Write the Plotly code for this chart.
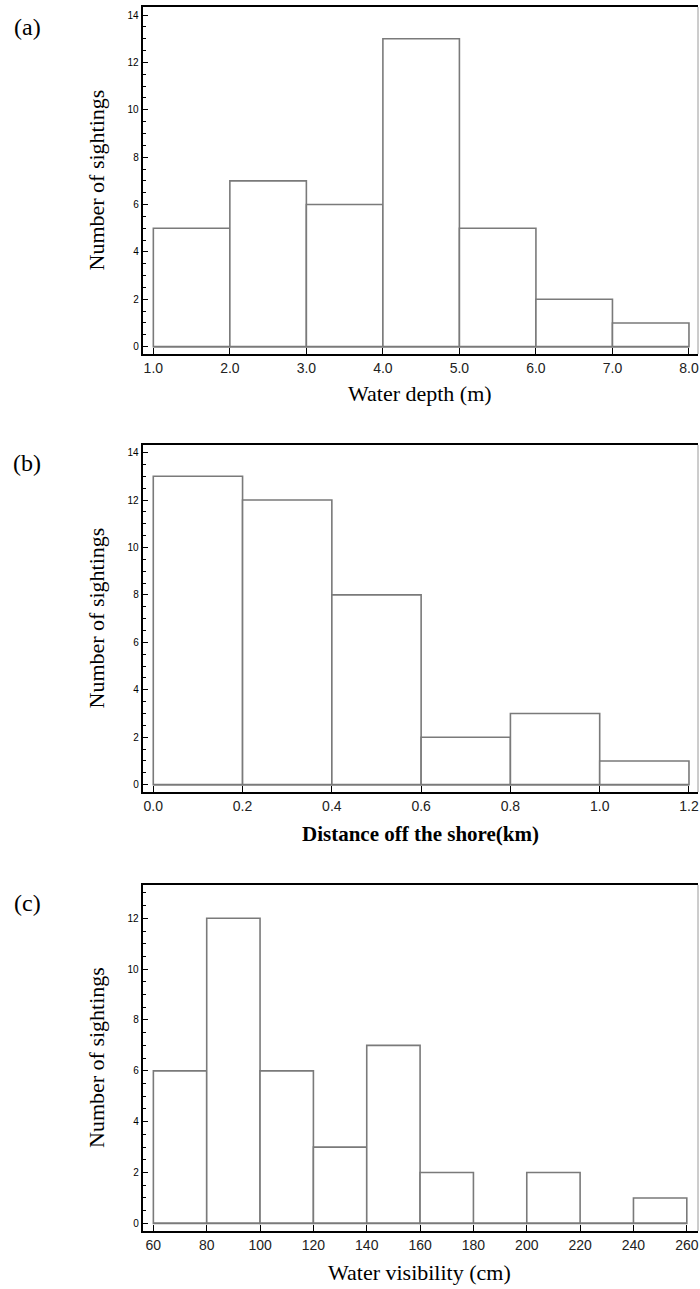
import plotly.graph_objects as go

W, H = 700, 1289

# ---------------- data ----------------
depth_edges = [1.0, 2.0, 3.0, 4.0, 5.0, 6.0, 7.0, 8.0]
depth_counts = [5, 7, 6, 13, 5, 2, 1]
depth_ticks = [1.0, 2.0, 3.0, 4.0, 5.0, 6.0, 7.0, 8.0]
depth_ticklabels = ["1.0", "2.0", "3.0", "4.0", "5.0", "6.0", "7.0", "8.0"]

dist_edges = [0.0, 0.2, 0.4, 0.6, 0.8, 1.0, 1.2]
dist_counts = [13, 12, 8, 2, 3, 1]
dist_ticks = [0.0, 0.2, 0.4, 0.6, 0.8, 1.0, 1.2]
dist_ticklabels = ["0.0", "0.2", "0.4", "0.6", "0.8", "1.0", "1.2"]

vis_edges = [60, 80, 100, 120, 140, 160, 180, 200, 220, 240, 260]
vis_counts = [6, 12, 6, 3, 7, 2, 0, 2, 0, 1]
vis_ticks = [60, 80, 100, 120, 140, 160, 180, 200, 220, 240, 260]
vis_ticklabels = ["60", "80", "100", "120", "140", "160", "180", "200", "220", "240", "260"]

panel_labels = ["(a)", "(b)", "(c)"]
x_titles = ["Water depth (m)", "Distance off the shore(km)", "Water visibility (cm)"]
y_title = "Number of sightings"

# ---------------- layout geometry (pixels) ----------------
left_px, right_px = 142.7, 698.0
panels = [
    dict(edges=depth_edges, counts=depth_counts, ticks=depth_ticks, labels=depth_ticklabels,
         top=7, bottom=354, xr=[0.861, 8.118], yr=[-0.31, 14.34], ymax_tick=14,
         lab_y=27, xt_y=393, xt_bold=False, xt_x=420),
    dict(edges=dist_edges, counts=dist_counts, ticks=dist_ticks, labels=dist_ticklabels,
         top=445, bottom=792, xr=[-0.0237, 1.2202], yr=[-0.31, 14.32], ymax_tick=14,
         lab_y=463, xt_y=834, xt_bold=True, xt_x=420),
    dict(edges=vis_edges, counts=vis_counts, ticks=vis_ticks, labels=vis_ticklabels,
         top=885, bottom=1231, xr=[56.0, 264.2], yr=[-0.30, 13.31], ymax_tick=12,
         lab_y=903, xt_y=1272, xt_bold=False, xt_x=419),
]

fig = go.Figure()
BAR_LINE = "#7a7a7a"
annotations = []
shapes = []
layout = {}

for i, p in enumerate(panels):
    n = "" if i == 0 else str(i + 1)
    xa, ya = "x" + n, "y" + n
    edges, counts = p["edges"], p["counts"]
    centers = [(edges[k] + edges[k + 1]) / 2 for k in range(len(counts))]
    widths = [edges[k + 1] - edges[k] for k in range(len(counts))]

    # baseline at zero across the binned range
    fig.add_trace(go.Scatter(x=[edges[0], edges[-1]], y=[0, 0], mode="lines",
                             line=dict(color=BAR_LINE, width=1.5),
                             xaxis=xa, yaxis=ya, showlegend=False, hoverinfo="skip"))
    fig.add_trace(go.Bar(x=centers, y=counts, width=widths,
                         marker=dict(color="white", line=dict(color=BAR_LINE, width=1.6)),
                         xaxis=xa, yaxis=ya, showlegend=False))

    d0 = 1 - p["bottom"] / H
    d1 = 1 - p["top"] / H
    layout["xaxis" + n] = dict(
        domain=[left_px / W, right_px / W], anchor=ya, range=p["xr"],
        tickmode="array", tickvals=p["ticks"], ticktext=p["labels"],
        ticks="inside", ticklen=6, tickwidth=1, tickcolor="black",
        showline=True, linecolor="black", linewidth=2, mirror=True,
        showgrid=False, zeroline=False,
        tickfont=dict(family="Liberation Sans", size=14, color="#222222"),
    )
    layout["yaxis" + n] = dict(
        domain=[d0, d1], anchor=xa, range=p["yr"],
        tickmode="array", tickvals=list(range(0, p["ymax_tick"] + 1, 2)),
        ticks="inside", ticklen=5, tickwidth=1, tickcolor="black",
        minor=dict(dtick=0.5, tick0=0, ticks="inside", ticklen=3, tickcolor="black"),
        showline=True, linecolor="black", linewidth=2, mirror=False,
        showgrid=False, zeroline=False,
        tickfont=dict(family="Liberation Sans", size=10, color="black"),
    )
    # right frame line (thin gray)
    shapes.append(dict(type="line", xref=xa + " domain", yref=ya + " domain",
                       x0=1, x1=1, y0=0, y1=1, line=dict(color="#9a9a9a", width=1)))

    annotations.append(dict(text=panel_labels[i], xref="paper", yref="paper",
                            x=27 / W, y=1 - p["lab_y"] / H, showarrow=False,
                            xanchor="center", yanchor="middle",
                            font=dict(family="Liberation Serif", size=24, color="black")))
    xt = x_titles[i]
    if p["xt_bold"]:
        xt = "<b>" + xt + "</b>"
    annotations.append(dict(text=xt, xref="paper", yref="paper",
                            x=p["xt_x"] / W, y=1 - p["xt_y"] / H, showarrow=False,
                            xanchor="center", yanchor="middle",
                            font=dict(family="Liberation Serif",
                                      size=21 if p["xt_bold"] else 22, color="black")))
    annotations.append(dict(text=y_title, xref="paper", yref="paper", textangle=-90,
                            x=96 / W, y=(d0 + d1) / 2, showarrow=False,
                            xanchor="center", yanchor="middle",
                            font=dict(family="Liberation Serif", size=22, color="black")))

fig.update_layout(
    width=W, height=H,
    margin=dict(l=0, r=0, t=0, b=0),
    paper_bgcolor="white", plot_bgcolor="white",
    bargap=0, showlegend=False, hovermode=False,
    annotations=annotations, shapes=shapes,
    **layout,
)

fig.write_html("out.html",
               config={"displayModeBar": False, "staticPlot": True},
               post_script="document.body.style.margin='0';document.body.style.overflow='hidden';")
